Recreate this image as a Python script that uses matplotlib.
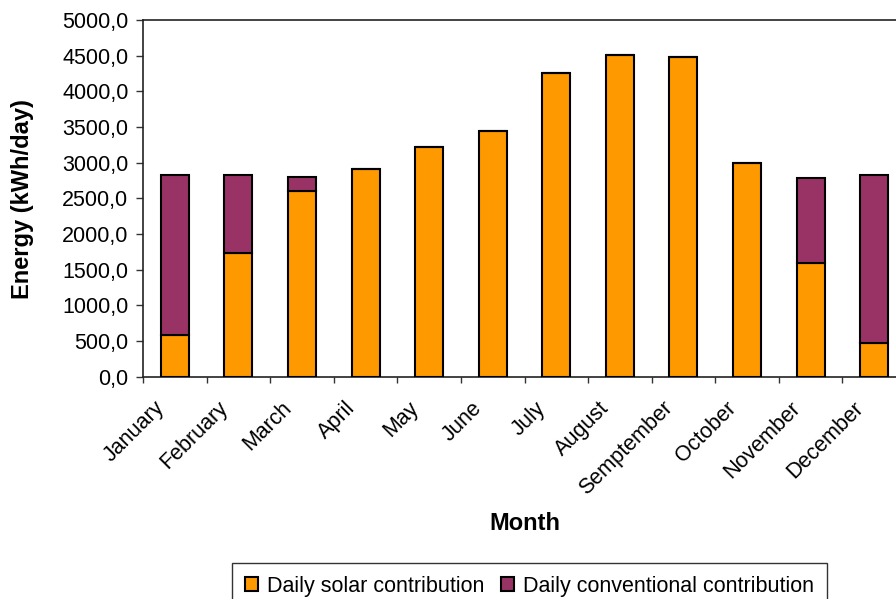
import matplotlib
matplotlib.use("Agg")
import matplotlib.pyplot as plt
import matplotlib.transforms as mtransforms
import numpy as np
from matplotlib.ticker import FuncFormatter, FixedLocator

plt.rcParams['font.family'] = ['Liberation Sans', 'DejaVu Sans']

months = ["January", "February", "March", "April", "May", "June", "July",
          "August", "Semptember", "October", "November", "December"]
solar = [580, 1730, 2610, 2910, 3220, 3440, 4260, 4510, 4480, 3000, 1600, 470]
conventional = [2250, 1100, 195, 0, 0, 0, 0, 0, 0, 0, 1180, 2360]

ORANGE = "#FF9900"
PURPLE = "#993366"
TICK_FS = 15.5
LABEL_FS = 17

fig = plt.figure(figsize=(8.96, 5.99), dpi=100)
ax = fig.add_axes([143 / 896, 222.3 / 599, 763 / 896, 356.7 / 599])

x = np.arange(len(months))
w = 0.44
ax.bar(x, solar, width=w, color=ORANGE, edgecolor="black", linewidth=1.5,
       label="Daily solar contribution", zorder=3)
ax.bar(x, conventional, width=w, bottom=solar, color=PURPLE, edgecolor="black",
       linewidth=1.5, label="Daily conventional contribution", zorder=3)

ax.set_xlim(-0.5, len(months) - 0.5)
ax.set_ylim(0, 5000)
ax.set_yticks(np.arange(0, 5001, 500))
ax.yaxis.set_major_formatter(FuncFormatter(lambda v, p: f"{v:.1f}".replace(".", ",")))

# category boundaries carry the tick marks, labels sit at the centers
ax.xaxis.set_major_locator(FixedLocator(np.arange(-0.5, len(months), 1.0)))
ax.xaxis.set_major_formatter(FuncFormatter(lambda v, p: ""))
ax.set_xticks(x, minor=True)
ax.set_xticklabels(months, minor=True, rotation=45, ha="right",
                   rotation_mode="anchor", fontsize=TICK_FS)
ax.tick_params(axis="x", which="minor", length=0, pad=15)
ax.tick_params(axis="x", which="major", length=4.5, width=1, color="#333333")
ax.tick_params(axis="y", length=5, width=1, color="#333333",
               labelsize=TICK_FS, pad=5.5)

shift = mtransforms.ScaledTranslation(-0.21, 0, fig.dpi_scale_trans)
for lab in ax.get_xticklabels(minor=True):
    lab.set_transform(lab.get_transform() + shift)

for s in ["left", "bottom", "top"]:
    ax.spines[s].set_color("#222222")
    ax.spines[s].set_linewidth(1.2)
ax.spines["right"].set_visible(False)

fig.text(22 / 896, 1 - 199 / 599, "Energy (kWh/day)", fontsize=LABEL_FS,
         fontweight="bold", rotation=90, ha="center", va="center")
fig.text(525 / 896, 1 - 524 / 599, "Month", fontsize=LABEL_FS, fontweight="bold",
         ha="center", va="center")

leg = fig.legend(loc="upper center", bbox_to_anchor=(529.5 / 896, 1 - 563 / 599),
                 ncol=2, fontsize=TICK_FS, frameon=True, fancybox=False,
                 edgecolor="black", handlelength=0.6, handleheight=0.6,
                 handletextpad=0.4, columnspacing=0.8, borderpad=0.6,
                 borderaxespad=0)
leg.get_frame().set_linewidth(1.0)

fig.savefig("out.png", dpi=100)
